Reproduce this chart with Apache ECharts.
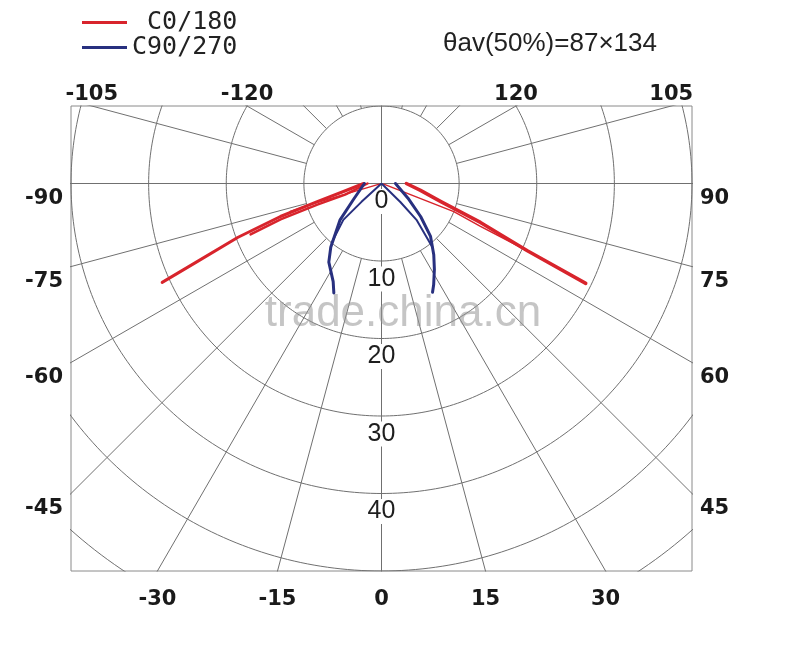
<!DOCTYPE html>
<html>
<head>
<meta charset="utf-8">
<script src="https://cdn.jsdelivr.net/npm/echarts@6/dist/echarts.min.js"></script>
<style>
html, body { margin: 0; padding: 0; background: #fff; }
#main { width: 800px; height: 649px; }
</style>
</head>
<body>
<div id="main"></div>
<script>
// polar readings: [gamma in degrees (C180 / C270 side negative), intensity]
const c0Right = [[90, 3.2], [80, 5.1], [73, 8.0], [68.5, 13.7], [65.2, 20.7], [63.9, 29.3]]
const c0RightInner = [[75, 0.3], [68.7, 10.0], [66.5, 13.9], [65.2, 20.7]]
const c180Left = [[-90, 2.3], [-78.1, 5.0], [-74.3, 8.6], [-71.9, 13.7], [-69.4, 19.8], [-67, 25.8], [-65.7, 31.0]]
const c180LeftMid = [[-90, 1.8], [-73, 4.9], [-71.8, 8.7], [-70.4, 13.8], [-68.7, 18.1]]
const c180LeftInner = [[-75, 0.3], [-73.5, 9.6], [-72.9, 12.3]]
const c90Right = [[90, 1.8], [61, 3.9], [49.8, 6.6], [42.8, 9.3], [36.2, 11.4], [31.6, 13.0], [27.2, 14.7], [25.1, 15.5]]
const c90RightInner = [[45, 0.1], [45.5, 3.4], [43.9, 6.5], [38.5, 10.6]]
const c270Left = [[-90, 2.2], [-60, 4.2], [-48.7, 7.1], [-38.5, 10.5], [-33.8, 12.2], [-26.2, 14.1], [-23.5, 15.4]]
const c270LeftInner = [[-47, 0.1], [-47.4, 3.5], [-46.3, 6.8], [-40, 10.0]]

// grid / tick values
const ringValues = [10, 20, 30, 40, 50, 60]
const rayAngles = [-165, -150, -135, -120, -105, -90, -75, -60, -45, -30, -15, 0,
  15, 30, 45, 60, 75, 90, 105, 120, 135, 150, 165, 180]
const radiusLabels = [0, 10, 20, 30, 40]
const leftLabels = [-90, -75, -60, -45]
const rightLabels = [90, 75, 60, 45]
const bottomLabels = [-30, -15, 0, 15, 30]
const topLabels = [-105, -120, 120, 105]

const RED = '#d8242c'
const BLUE = '#28307f'
const GRID = '#707070'

const rad = d => d * Math.PI / 180
const toXY = ([g, v]) => [v * Math.sin(rad(g)), -v * Math.cos(rad(g))]

const series = []

// rings
ringValues.forEach(r => {
  const pts = []
  for (let a = 0; a <= 360; a += 1) pts.push(toXY([a, r]))
  series.push({
    type: 'line', data: pts, symbol: 'none', silent: true, clip: true, z: 1,
    lineStyle: { color: GRID, width: 1 }
  })
})
// rays (start at the inner ring, except the main cross)
rayAngles.forEach(a => {
  const r0 = a % 90 === 0 ? 0 : 10
  series.push({
    type: 'line', data: [toXY([a, r0]), toXY([a, 80])], symbol: 'none', silent: true, clip: true, z: 1,
    lineStyle: { color: GRID, width: 1 }
  })
})

// radius labels
series.push({
  type: 'scatter', symbolSize: 0, silent: true, z: 3,
  itemStyle: { opacity: 1 },
  data: radiusLabels.map(v => [0, -v, v]),
  label: {
    show: true, position: 'inside', offset: [0, 18],
    formatter: p => String(p.data[2]),
    fontFamily: 'Liberation Sans', fontSize: 25, color: '#1e1e1e',
    backgroundColor: '#fff', padding: [0, 1]
  }
})

function curve(name, pts, color, width) {
  series.push({
    name: name, type: 'line', data: pts.map(toXY), symbol: 'none', silent: true, z: 5,
    itemStyle: { color: color },
    lineStyle: { color: color, width: width, cap: 'round', join: 'round' }
  })
}
curve('C0/180', c0Right, RED, 3.5)
curve('C0/180', c0RightInner, RED, 1.5)
curve('C0/180', c180Left, RED, 3)
curve('C0/180', c180LeftMid, RED, 2.5)
curve('C0/180', c180LeftInner, RED, 1.5)
curve('C90/270', c90Right, BLUE, 3)
curve('C90/270', c90RightInner, BLUE, 2)
curve('C90/270', c270Left, BLUE, 3)
curve('C90/270', c270LeftInner, BLUE, 2)

const option = {
  animation: false,
  backgroundColor: '#fff',
  title: {
    text: 'θav(50%)=87×134',
    left: 443, top: 31, padding: 0,
    textStyle: { fontFamily: 'Liberation Sans', fontSize: 26, fontWeight: 'normal', color: '#222' }
  },
  legend: {
    orient: 'vertical', left: 82, top: 10, itemGap: 0, padding: 0,
    itemWidth: 45, itemHeight: 3, icon: 'rect', selectedMode: false,
    data: ['C0/180', 'C90/270'],
    formatter: n => (n === 'C0/180' ? ' C0/180' : n),
    textStyle: { fontFamily: 'DejaVu Sans Mono', fontSize: 25, color: '#222' }
  },
  grid: {
    show: true, left: 71, top: 106, width: 621, height: 465,
    borderColor: '#8a8a8a', borderWidth: 1, backgroundColor: 'transparent'
  },
  xAxis: { type: 'value', min: -40, max: 40, show: false },
  yAxis: { type: 'value', min: -50, max: 10, show: false },
  series: series
}

const chart = echarts.init(document.getElementById('main'))
chart.setOption(option)

// angle labels where the rays leave the frame
const toPx = p => chart.convertToPixel({ gridIndex: 0 }, p)
const labelFont = 'bold 21px "DejaVu Sans"'
function txt(text, x, y, align, font, fill, z) {
  return {
    type: 'text', z: z || 50, silent: true,
    style: {
      text: text, x: x, y: y, font: font || labelFont, fill: fill || '#1a1a1a',
      align: align, verticalAlign: 'middle', textAlign: align, textVerticalAlign: 'middle'
    }
  }
}
const texts = []
leftLabels.forEach(a => {
  const r = -40 / Math.sin(rad(a))
  const p = toPx([-40, -r * Math.cos(rad(a))])
  texts.push(txt(String(a), p[0] - 8, p[1] + 15, 'right'))
})
rightLabels.forEach(a => {
  const r = 40 / Math.sin(rad(a))
  const p = toPx([40, -r * Math.cos(rad(a))])
  texts.push(txt(String(a), p[0] + 8, p[1] + 15, 'left'))
})
bottomLabels.forEach(a => {
  const p = toPx([50 * Math.tan(rad(a)), -50])
  texts.push(txt(String(a), p[0], p[1] + 29, 'center'))
})
topLabels.forEach(a => {
  const r = -10 / Math.cos(rad(a))
  const p = toPx([r * Math.sin(rad(a)), 10])
  texts.push(txt(String(a), p[0], p[1] - 11, 'center'))
})
texts.push(txt('trade.china.cn', 403, 314, 'center', '44px "Liberation Sans"', 'rgba(150,150,150,0.55)', 60))

chart.setOption({ graphic: texts })
</script>
</body>
</html>
